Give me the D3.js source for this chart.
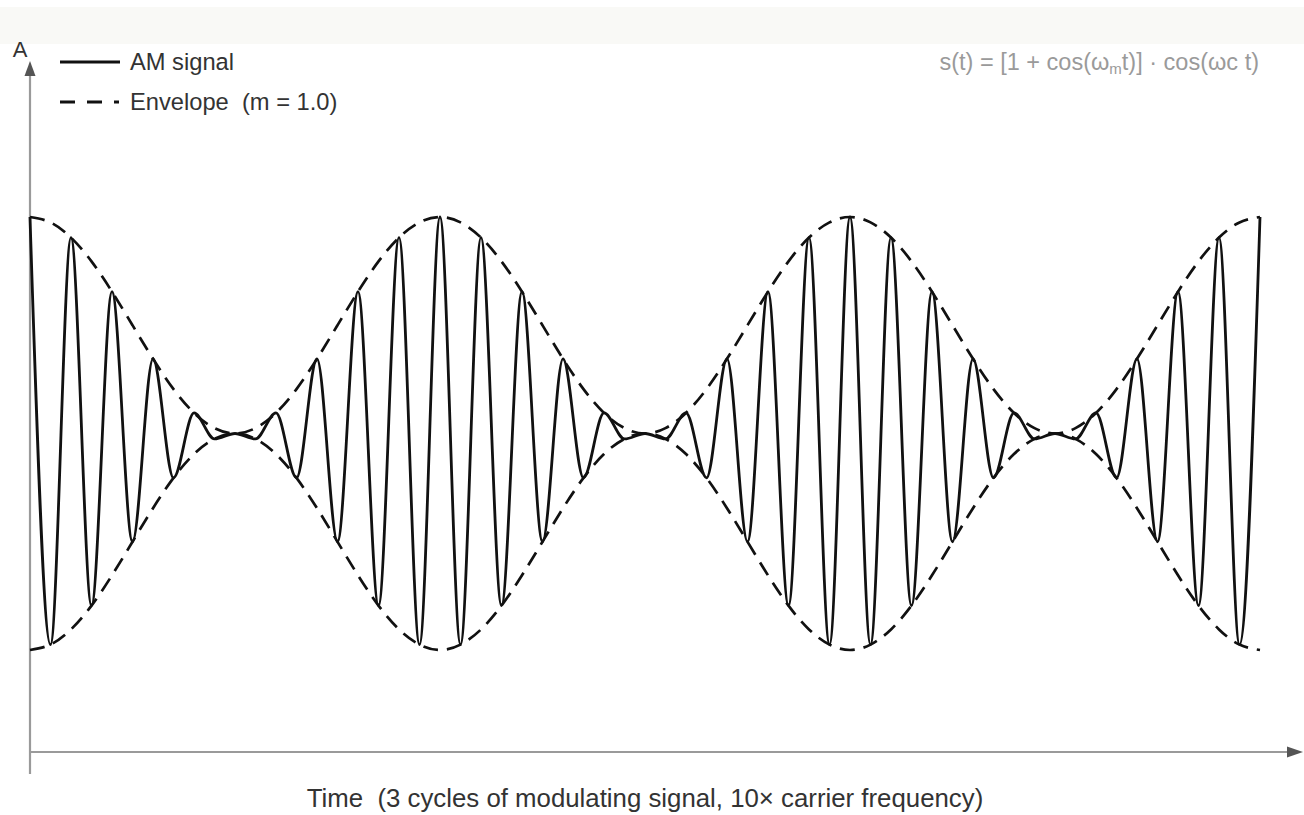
<!DOCTYPE html>
<html>
<head>
<meta charset="utf-8">
<script src="https://cdn.jsdelivr.net/npm/d3@7"></script>
<style>
  html, body { margin: 0; padding: 0; background: #fff; }
  svg { display: block; }
  text { font-family: "Liberation Sans", Arial, Helvetica, sans-serif; white-space: pre; }
</style>
</head>
<body>
<svg id="chart" width="1304" height="815"></svg>
<script>
// ---- data (one per carrier half-cycle extremum) ----
const signalValues = [
  2.00, -1.95, 1.81, -1.59, 1.31, -1.00, 0.69, -0.41, 0.19, -0.05,
  0.00, -0.05, 0.19, -0.41, 0.69, -1.00, 1.31, -1.59, 1.81, -1.95,
  2.00, -1.95, 1.81, -1.59, 1.31, -1.00, 0.69, -0.41, 0.19, -0.05,
  0.00, -0.05, 0.19, -0.41, 0.69, -1.00, 1.31, -1.59, 1.81, -1.95,
  2.00, -1.95, 1.81, -1.59, 1.31, -1.00, 0.69, -0.41, 0.19, -0.05,
  0.00, -0.05, 0.19, -0.41, 0.69, -1.00, 1.31, -1.59, 1.81, -1.95,
  2.00
];
const envelopeValues = [
  2.00, 1.95, 1.81, 1.59, 1.31, 1.00, 0.69, 0.41, 0.19, 0.05,
  0.00, 0.05, 0.19, 0.41, 0.69, 1.00, 1.31, 1.59, 1.81, 1.95,
  2.00, 1.95, 1.81, 1.59, 1.31, 1.00, 0.69, 0.41, 0.19, 0.05,
  0.00, 0.05, 0.19, 0.41, 0.69, 1.00, 1.31, 1.59, 1.81, 1.95,
  2.00, 1.95, 1.81, 1.59, 1.31, 1.00, 0.69, 0.41, 0.19, 0.05,
  0.00, 0.05, 0.19, 0.41, 0.69, 1.00, 1.31, 1.59, 1.81, 1.95,
  2.00
];
const legendLabels = ["AM signal", "Envelope  (m = 1.0)"];
const yAxisLabel = "A";
const xAxisLabel = "Time  (3 cycles of modulating signal, 10\u00d7 carrier frequency)";

// ---- drawing ----
const svg = d3.select("#chart");
const W = 1304, H = 815;

// light top band
svg.append("rect").attr("x", 0).attr("y", 7).attr("width", W).attr("height", 37)
  .attr("fill", "#f9f9f6");

const x = d3.scaleLinear().domain([0, signalValues.length - 1]).range([30, 1260]);
const y = d3.scaleLinear().domain([-2, 2]).range([650, 217]);

// axes
const axisColor = "#9a9a9a";
svg.append("line").attr("x1", 30).attr("x2", 30).attr("y1", 774).attr("y2", 70)
  .attr("stroke", axisColor).attr("stroke-width", 2.2);
svg.append("line").attr("x1", 29).attr("x2", 1292).attr("y1", 752).attr("y2", 752)
  .attr("stroke", axisColor).attr("stroke-width", 2.2);
svg.append("path").attr("d", "M1303,752 L1287,746.5 L1287,757.5 Z").attr("fill", "#555");
svg.append("path").attr("d", "M30,61 L24.5,76 L35.5,76 Z").attr("fill", "#555");

svg.append("text").attr("x", 20).attr("y", 57).attr("text-anchor", "middle")
  .attr("font-size", 22).attr("fill", "#333").text(yAxisLabel);

svg.append("text").attr("x", 645).attr("y", 807).attr("text-anchor", "middle")
  .attr("font-size", 25.8).attr("fill", "#333").text(xAxisLabel);

// envelope
const envLine = d3.line().curve(d3.curveNatural);
const upper = envelopeValues.map((v, i) => [x(i), y(v)]);
const lower = envelopeValues.map((v, i) => [x(i), y(-v)]);
[upper, lower].forEach(pts => {
  svg.append("path").attr("d", envLine(pts))
    .attr("fill", "none").attr("stroke", "#111").attr("stroke-width", 2.7)
    .attr("stroke-dasharray", "15,9");
});

// AM signal
const sigLine = d3.line().x((d, i) => x(i)).y(d => y(d)).curve(d3.curveMonotoneX);
svg.append("path").datum(signalValues).attr("d", sigLine)
  .attr("fill", "none").attr("stroke", "#111").attr("stroke-width", 2.8);

// legend
const lg = svg.append("g");
lg.append("line").attr("x1", 60).attr("x2", 120).attr("y1", 62).attr("y2", 62)
  .attr("stroke", "#111").attr("stroke-width", 2.8);
lg.append("line").attr("x1", 60).attr("x2", 119).attr("y1", 102).attr("y2", 102)
  .attr("stroke", "#111").attr("stroke-width", 2.8).attr("stroke-dasharray", "15,12");
lg.selectAll("text.lab").data(legendLabels).join("text").attr("class", "lab")
  .attr("x", 130).attr("y", (d, i) => 70 + i * 40)
  .attr("font-size", 23.7).attr("fill", "#333")
  .text(d => d);

// formula
const f = svg.append("text").attr("x", 1259).attr("y", 70).attr("text-anchor", "end")
  .attr("font-size", 23.5).attr("fill", "#9a9a9a");
f.append("tspan").text("s(t) = [1 + cos(\u03c9");
f.append("tspan").attr("font-size", 15).attr("dy", 4).text("m");
f.append("tspan").attr("dy", -4).text("t)] \u00b7 cos(\u03c9c t)");
</script>
</body>
</html>
